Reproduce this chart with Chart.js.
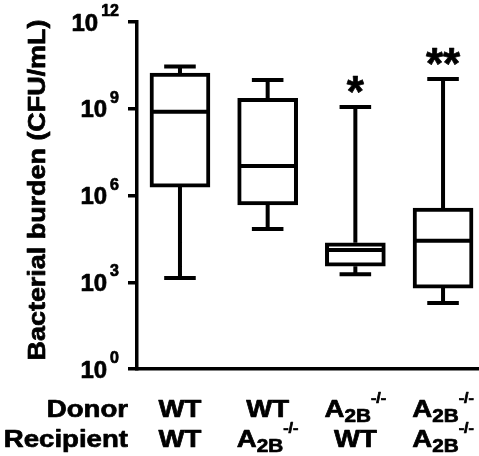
<!DOCTYPE html>
<html>
<head>
<meta charset="utf-8">
<script src="https://cdn.jsdelivr.net/npm/chart.js@4/dist/chart.umd.min.js"></script>
<style>
  html, body { margin:0; padding:0; background:#fff; }
  #wrap { width:479px; height:456px; position:relative; }
</style>
</head>
<body>
<div id="wrap"><canvas id="burden"></canvas></div>
<script>
// groups, left to right
var donors     = ['WT', 'WT', 'A2B-/-', 'A2B-/-'];
var recipients = ['WT', 'A2B-/-', 'WT', 'A2B-/-'];
// box plot values, CFU/mL
var minV = [1.4e3,  6.9e4, 1.9e3,  1.9e2];
var q1V  = [1.95e6, 4.7e5, 3.6e3,  6.3e2];
var medV = [7.8e8,  1.05e7, 1.3e4, 2.7e4];
var q3V  = [1.7e10, 2.3e9, 2.3e4,  3.7e5];
var maxV = [2.9e10, 9.8e9, 1.15e9, 1.07e10];
var stars = ['', '', '*', '**'];
var yTicks = [1e0, 1e3, 1e6, 1e9, 1e12];

var FONT = '"Liberation Sans", Arial, Helvetica, sans-serif';
var CAP = 0.18, HALF = 0.335;

var boxes = [], whiskers = [], caps = [], medians = [];
donors.forEach(function (d, i) {
    var x = i + 1;
    boxes.push({x:x, y:[q1V[i], q3V[i]]});
    whiskers.push({x:x, y:minV[i]}, {x:x, y:q1V[i]}, {x:x, y:null},
                  {x:x, y:q3V[i]}, {x:x, y:maxV[i]}, {x:x, y:null});
    caps.push({x:x-CAP, y:minV[i]}, {x:x+CAP, y:minV[i]}, {x:x, y:null},
              {x:x-CAP, y:maxV[i]}, {x:x+CAP, y:maxV[i]}, {x:x, y:null});
    medians.push({x:x-HALF, y:medV[i]}, {x:x+HALF, y:medV[i]}, {x:x, y:null});
});

function lineSet(data) {
    return { type:'line', data:data, borderColor:'#000', borderWidth:4, pointRadius:0,
             spanGaps:false, tension:0, borderCapStyle:'butt', fill:false, order:1 };
}

// filled text with a thin outline so it reads as heavy as the original
function heavy(ctx, s, x, y) {
    ctx.fillText(s, x, y);
    ctx.strokeText(s, x, y);
}

// genotype label, e.g. A2B-/- -> A with subscript 2B and superscript -/-
function drawGeno(ctx, label, cx, base) {
    var parts = label === 'WT' ? [['WT', 24, 0]]
              : [['A', 24, 0], ['2B', 18, 5], ['-/-', 14, -14]];
    var total = 0;
    parts.forEach(function (p) { ctx.font = 'bold '+p[1]+'px '+FONT; p.push(ctx.measureText(p[0]).width); total += p[3]; });
    var sx = 1.15;
    ctx.save();
    ctx.translate(cx - total*sx/2, base);
    ctx.scale(sx, 1);
    var x = 0;
    parts.forEach(function (p) { ctx.font = 'bold '+p[1]+'px '+FONT; heavy(ctx, p[0], x, p[2]); x += p[3]; });
    ctx.restore();
}

var textPlugin = {
    id: 'texts',
    afterDraw: function (chart) {
        var ctx = chart.ctx, xs = chart.scales.x, ys = chart.scales.y;
        ctx.save();
        ctx.fillStyle = '#000';
        ctx.strokeStyle = '#000';
        ctx.lineWidth = 0.7;
        ctx.lineJoin = 'round';
        ctx.textBaseline = 'alphabetic';
        ctx.textAlign = 'left';

        // y tick labels 10^n
        ys.ticks.forEach(function (t) {
            var py = ys.getPixelForValue(t.value);
            var exp = String(Math.round(Math.log10(t.value)));
            ctx.font = 'bold 16px ' + FONT;
            var we = ctx.measureText(exp).width;
            ctx.font = 'bold 24px ' + FONT;
            var wb = ctx.measureText('10').width;
            var right = 119;
            heavy(ctx, '10', right - we - 3 - wb, py + 8.5);
            ctx.font = 'bold 16px ' + FONT;
            heavy(ctx, exp, right - we, py - 6);
        });

        // y title
        ctx.save();
        ctx.translate(44.5, 190);
        ctx.rotate(-Math.PI/2);
        ctx.scale(1.17, 1);
        ctx.textAlign = 'center';
        ctx.font = 'bold 23px ' + FONT;
        heavy(ctx, 'Bacterial burden (CFU/mL)', 0, 0);
        ctx.restore();

        // row headers
        ctx.save();
        ctx.font = 'bold 24px ' + FONT;
        ctx.textAlign = 'right';
        ctx.translate(128, 0);
        ctx.scale(1.15, 1);
        heavy(ctx, 'Donor', 0, 417);
        heavy(ctx, 'Recipient', 0, 447);
        ctx.restore();

        donors.forEach(function (d, i) {
            var cx = xs.getPixelForValue(i + 1);
            drawGeno(ctx, d, cx, 417);
            drawGeno(ctx, recipients[i], cx, 447);
        });

        // significance marks
        ctx.font = 'bold 44px ' + FONT;
        ctx.textAlign = 'center';
        stars.forEach(function (s, i) {
            if (!s) return;
            var m = ctx.measureText(s);
            var bottom = ys.getPixelForValue(maxV[i]) - 13.5;
            heavy(ctx, s, xs.getPixelForValue(i + 1), bottom - m.actualBoundingBoxDescent);
        });
        ctx.restore();
    }
};

new Chart(document.getElementById('burden'), {
    type: 'bar',
    data: { datasets: [
        { type:'bar', data:boxes, backgroundColor:'#fff', borderColor:'#000', borderWidth:4,
          borderSkipped:false, barThickness:60, grouped:false, order:2 },
        lineSet(whiskers), lineSet(caps), lineSet(medians)
    ] },
    options: {
        responsive:true, maintainAspectRatio:false, animation:false,
        layout:{ padding:{ top:22, right:0, left:0, bottom:0 } },
        plugins:{ legend:{display:false}, tooltip:{enabled:false} },
        scales:{
            x:{ type:'linear', min:0.51, max:4.41, offset:false,
                grid:{display:false, offset:false}, ticks:{display:false},
                border:{display:true, color:'#000', width:3.5},
                afterFit:function (s) { s.height = 87; } },
            y:{ type:'logarithmic', min:1, max:1e12,
                afterBuildTicks:function (s) { s.ticks = yTicks.map(function (v) { return {value:v}; }); },
                ticks:{display:false},
                grid:{drawOnChartArea:false, drawTicks:true, tickLength:9, lineWidth:3.5, color:'#000'},
                border:{display:true, color:'#000', width:3.5},
                afterFit:function (s) { s.width = 137; } }
        }
    },
    plugins:[textPlugin]
});
</script>
</body>
</html>
